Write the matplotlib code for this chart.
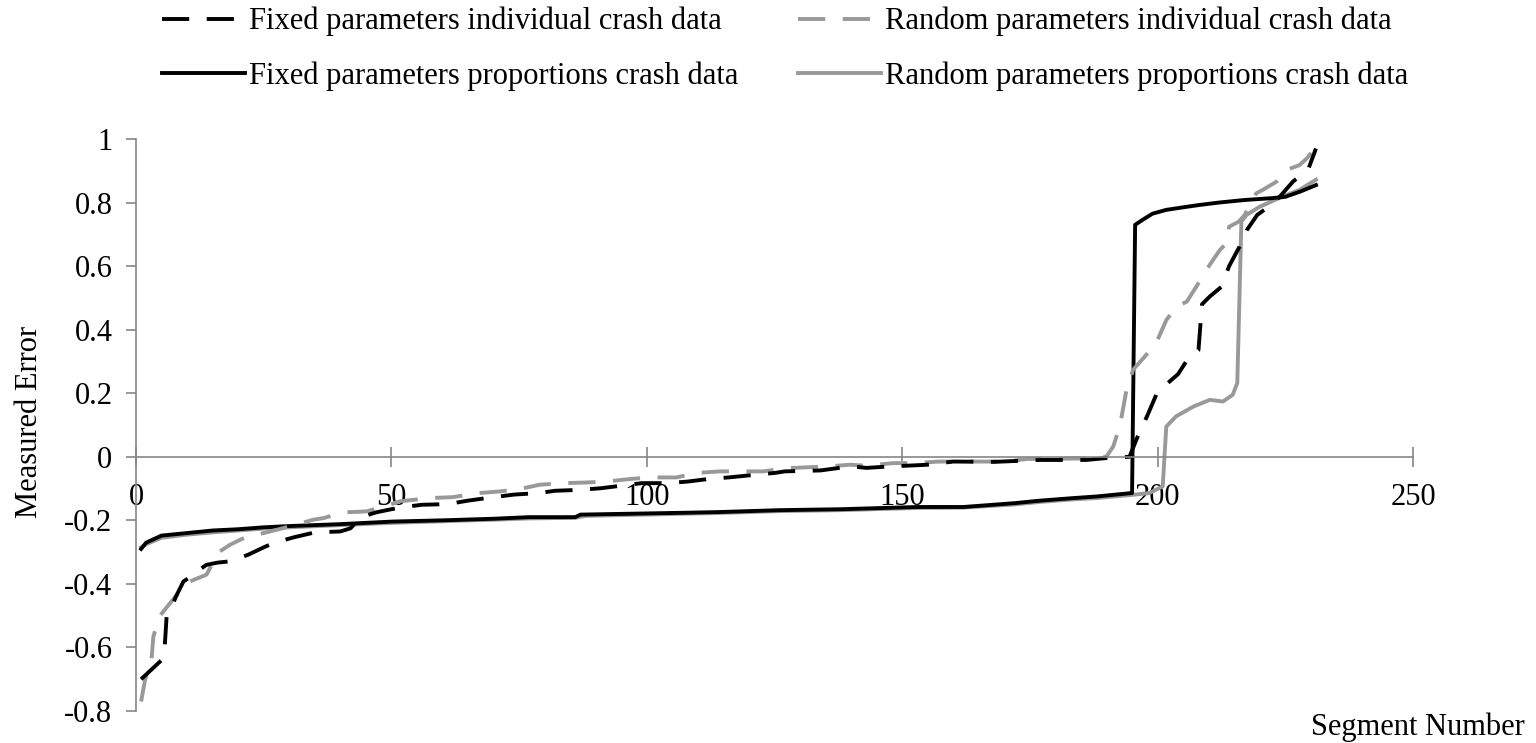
import matplotlib
matplotlib.use("Agg")
import matplotlib.pyplot as plt

plt.rcParams['font.family'] = ['Liberation Serif', 'DejaVu Serif']

# Fixed parameters individual crash data (black dashed)
fi_x = [1, 3, 5, 5.5, 6, 7, 8, 9.3, 10.9, 12, 13.8, 16, 18.4, 20, 22, 25, 27, 31, 35, 40, 42, 44,
        47, 50, 53, 56, 61, 65, 70, 74, 79, 82, 87, 91, 95, 99, 104, 108, 112, 116, 121, 125, 127,
        134, 140, 143, 148, 151, 155, 160, 168, 177, 186, 190, 194.5, 196, 198, 200, 202, 204, 206,
        208, 208.7, 210.2, 212.5, 214, 216, 217.5, 219.5, 222, 224, 226.5, 229.5, 231]
fi_y = [-0.70, -0.67, -0.64, -0.63, -0.50, -0.47, -0.434, -0.392, -0.376, -0.36, -0.34, -0.333,
        -0.329, -0.32, -0.308, -0.285, -0.271, -0.253, -0.238, -0.235, -0.225, -0.19, -0.175, -0.165,
        -0.157, -0.151, -0.149, -0.138, -0.127, -0.119, -0.114, -0.107, -0.104, -0.099, -0.091,
        -0.083, -0.083, -0.078, -0.070, -0.065, -0.057, -0.051, -0.046, -0.043, -0.030, -0.035,
        -0.030, -0.028, -0.025, -0.015, -0.016, -0.010, -0.010, -0.004, 0.0, 0.06, 0.13, 0.205,
        0.232, 0.26, 0.31, 0.336, 0.48, 0.504, 0.535, 0.60, 0.66, 0.714, 0.761, 0.79, 0.82, 0.866,
        0.905, 0.97]

# Random parameters individual crash data (grey dashed)
ri_x = [1, 1.8, 3, 3.4, 4.7, 6.7, 8, 10.6, 13.8, 14.5, 16.4, 18.4, 20.4, 22, 25, 28, 31, 34.7,
        36.7, 40.6, 45, 48, 51.7, 57.5, 62, 67.3, 71.2, 75, 79, 83.6, 88, 92, 96.7, 100.6, 105.8,
        109.7, 114.3, 122.8, 127.3, 135.8, 139.7, 143, 148.2, 152.2, 157.3, 170.4, 174.3, 188, 190,
        191.3, 192.6, 193.9, 195.2, 197.2, 199.7, 201.7, 203.7, 205.7, 207.6, 210.2, 212.2, 213.5,
        214, 215.9, 217, 219.3, 220.6, 223.3, 225.3, 227.8, 229.2, 231]
ri_y = [-0.77, -0.70, -0.645, -0.565, -0.50, -0.46, -0.434, -0.392, -0.371, -0.35, -0.298, -0.277,
        -0.261, -0.25, -0.24, -0.228, -0.215, -0.198, -0.193, -0.175, -0.172, -0.16, -0.14, -0.130,
        -0.127, -0.114, -0.109, -0.102, -0.088, -0.083, -0.081, -0.078, -0.070, -0.065, -0.065,
        -0.051, -0.046, -0.046, -0.036, -0.030, -0.025, -0.028, -0.020, -0.020, -0.015, -0.015,
        -0.007, -0.005, 0.001, 0.032, 0.095, 0.21, 0.274, 0.31, 0.357, 0.43, 0.473, 0.488, 0.536,
        0.604, 0.651, 0.672, 0.724, 0.74, 0.76, 0.829, 0.84, 0.866, 0.903, 0.918, 0.939, 0.975]

# Fixed parameters proportions crash data (black solid)
fp_x = [1, 2, 5, 10, 15, 20, 25, 30, 40, 50, 60, 70, 77, 86, 87, 108, 114, 126, 138, 153, 162,
        172, 177, 183.5, 188, 195, 195.6, 197, 199, 201.7, 205, 208, 212, 217, 222.5, 225, 228, 231]
fp_y = [-0.29, -0.27, -0.248, -0.24, -0.232, -0.228, -0.222, -0.218, -0.212, -0.204, -0.200,
        -0.195, -0.190, -0.190, -0.182, -0.176, -0.174, -0.168, -0.165, -0.158, -0.158, -0.146,
        -0.138, -0.130, -0.125, -0.114, 0.73, 0.745, 0.765, 0.777, 0.785, 0.792, 0.80, 0.808,
        0.814, 0.818, 0.835, 0.855]

# Random parameters proportions crash data (grey solid)
rp_x = [1, 2, 5, 10, 15, 20, 25, 30, 40, 50, 60, 70, 77, 86, 88, 108, 114, 126, 138, 153, 162,
        172, 177, 183.5, 188, 195, 198.4, 201, 201.7, 203.6, 207, 210.2, 212.8, 214.7, 215.6, 216.4,
        217.4, 220, 224.5, 227.8, 231]
rp_y = [-0.285, -0.275, -0.255, -0.245, -0.238, -0.232, -0.226, -0.222, -0.215, -0.208, -0.203,
        -0.198, -0.194, -0.192, -0.186, -0.179, -0.177, -0.171, -0.168, -0.161, -0.160, -0.150,
        -0.142, -0.134, -0.130, -0.12, -0.114, -0.093, 0.095, 0.127, 0.158, 0.179, 0.174, 0.195,
        0.232, 0.74, 0.761, 0.787, 0.819, 0.84, 0.872]

labels = ["Fixed parameters individual crash data", "Random parameters individual crash data",
          "Fixed parameters proportions crash data", "Random parameters proportions crash data"]

x_ticks = [0, 50, 100, 150, 200, 250]
y_ticks = [-0.8, -0.6, -0.4, -0.2, 0, 0.2, 0.4, 0.6, 0.8, 1]
y_ticklabels = ["-0.8", "-0.6", "-0.4", "-0.2", "0", "0.2", "0.4", "0.6", "0.8", "1"]

BLACK = "#000000"
GREY = "#999999"
FS = 22
LW = 2.8

fig = plt.figure(figsize=(15.36, 7.43), dpi=100)
ax = fig.add_axes([136 / 1536, 1 - 711 / 743, (1413 - 136) / 1536, (711 - 139) / 743])

l_rp, = ax.plot(rp_x, rp_y, color=GREY, lw=LW, solid_joinstyle='round')
l_fp, = ax.plot(fp_x, fp_y, color=BLACK, lw=LW, solid_joinstyle='round')
l_ri, = ax.plot(ri_x, ri_y, color=GREY, lw=LW, dashes=(7, 4.5))
l_fi, = ax.plot(fi_x, fi_y, color=BLACK, lw=LW, dashes=(7, 4.5))

ax.set_xlim(0, 250)
ax.set_ylim(-0.8, 1)
ax.set_xticks(x_ticks)
ax.set_xticklabels([str(v) for v in x_ticks])
ax.set_yticks(y_ticks)
ax.set_yticklabels(y_ticklabels)

for s in ['top', 'right']:
    ax.spines[s].set_visible(False)
ax.spines['bottom'].set_position(('data', 0))
for s in ['bottom', 'left']:
    ax.spines[s].set_color('#868686')
    ax.spines[s].set_linewidth(1.2)

ax.tick_params(axis='x', direction='inout', length=14, width=1.2, color='#868686',
               labelsize=FS, pad=12)
ax.tick_params(axis='y', direction='out', length=7, width=1.2, color='#868686',
               labelsize=FS, pad=10)

fig.text(30 / 1536, 1 - 422 / 743, "Measured Error", rotation=90, ha='center', va='center',
         fontsize=FS)
fig.text(1525 / 1536, 1 - 727 / 743, "Segment Number", ha='right', va='center', fontsize=FS)

leg = fig.legend([l_fi, l_fp, l_ri, l_rp],
                 [labels[0], labels[2], labels[1], labels[3]],
                 ncol=2, loc='upper left', bbox_to_anchor=(162 / 1536, 1 - 7 / 743),
                 frameon=False, fontsize=FS, handlelength=2.7, handletextpad=0.15,
                 columnspacing=1.95, labelspacing=0.82, borderpad=0, borderaxespad=0)

fig.savefig("out.png", dpi=100)
